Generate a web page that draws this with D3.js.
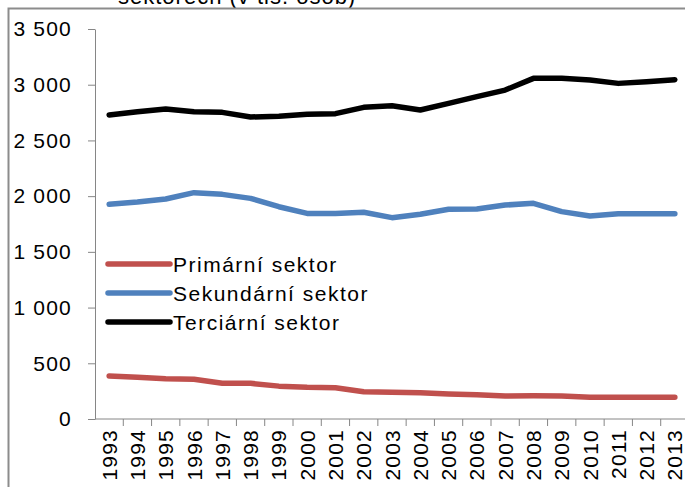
<!DOCTYPE html>
<html>
<head>
<meta charset="utf-8">
<script src="https://cdn.jsdelivr.net/npm/d3@7"></script>
<style>
  body { margin: 0; background: #fff; }
  svg { display: block; font-family: "Liberation Sans", Arial, sans-serif; }
  .axis path, .axis line { stroke: #868686; }
  .axis text { fill: #000; font-size: 21px; letter-spacing: 1.2px; }
</style>
</head>
<body>
<div id="chart"></div>
<script>
'use strict';

var years = ['1993','1994','1995','1996','1997','1998','1999','2000','2001','2002','2003',
             '2004','2005','2006','2007','2008','2009','2010','2011','2012','2013'];
var primarni = [386, 375, 362, 356, 320, 320, 295, 285, 281, 245, 240,
                235, 224, 218, 206, 208, 207, 195, 195, 195, 195];
var sekundarni = [1927, 1947, 1974, 2031, 2016, 1980, 1905, 1845, 1845, 1855, 1807,
                  1837, 1882, 1885, 1920, 1936, 1861, 1822, 1843, 1843, 1843];
var terciarni = [2728, 2757, 2782, 2757, 2752, 2710, 2718, 2734, 2740, 2797, 2812,
                 2773, 2833, 2893, 2952, 3057, 3057, 3042, 3012, 3027, 3045];
var seriesNames = ['Primární sektor', 'Sekundární sektor', 'Terciární sektor'];
var seriesColors = ['#C0504D', '#4F81BD', '#000000'];
var yTicks = [0, 500, 1000, 1500, 2000, 2500, 3000, 3500];

function lineChart() {
  var scope = {};
  var exports = {};

  scope.appendSvg = function(div) {
    return d3.select(div).append('svg')
      .attr('width', 685)
      .attr('height', 487);
  };

  scope.appendFrame = function(svg) {
    // title is mostly cut off above the picture, only its lower edge shows
    svg.append('text')
      .attr('x', 118)
      .attr('y', 3.5)
      .style('font-size', '22px')
      .style('letter-spacing', '1px')
      .text('sektorech (v tis. osob)');

    svg.append('rect')
      .attr('x', 8.5)
      .attr('y', 8.5)
      .attr('width', 700)
      .attr('height', 500)
      .attr('fill', 'none')
      .attr('stroke', '#8c8c8c')
      .attr('stroke-width', 2);
  };

  scope.createAxes = function(svg) {
    var locale = d3.formatLocale({ decimal: ',', thousands: '\u00a0', grouping: [3], currency: ['', ''] });

    scope.xScale = d3.scaleBand().domain(years).range([95, 689]).padding(0);
    scope.yScale = d3.scaleLinear().domain([0, 3500]).range([419, 29]);

    var yAxis = d3.axisLeft(scope.yScale)
      .tickValues(yTicks)
      .tickSize(7)
      .tickSizeOuter(0)
      .tickPadding(16)
      .tickFormat(locale.format(',d'));

    svg.append('g')
      .attr('class', 'axis yAxis')
      .attr('transform', 'translate(95,0)')
      .call(yAxis);

    var xAxisGroup = svg.append('g')
      .attr('class', 'axis xAxis')
      .attr('transform', 'translate(0,419)');

    xAxisGroup.append('line')
      .attr('x1', 95).attr('x2', 689)
      .attr('y1', 0).attr('y2', 0);

    // ticks sit between categories, like the original
    xAxisGroup.selectAll('.bound')
      .data(years)
      .enter()
      .append('line')
      .attr('class', 'bound')
      .attr('x1', function(d) { return scope.xScale(d) + scope.xScale.bandwidth(); })
      .attr('x2', function(d) { return scope.xScale(d) + scope.xScale.bandwidth(); })
      .attr('y1', 0).attr('y2', 7);

    xAxisGroup.selectAll('.label')
      .data(years)
      .enter()
      .append('text')
      .attr('class', 'label')
      .attr('text-anchor', 'end')
      .attr('dy', '0.36em')
      .attr('transform', function(d) {
        return 'translate(' + (scope.xScale(d) + scope.xScale.bandwidth() / 2) + ',10) rotate(-90)';
      })
      .text(function(d) { return d; });
  };

  scope.appendLines = function(svg) {
    var line = d3.line()
      .x(function(d, i) { return scope.xScale(years[i]) + scope.xScale.bandwidth() / 2; })
      .y(function(d) { return scope.yScale(d); });

    svg.selectAll('.series')
      .data([primarni, sekundarni, terciarni])
      .enter()
      .append('path')
      .attr('class', 'series')
      .attr('fill', 'none')
      .attr('stroke', function(d, i) { return seriesColors[i]; })
      .attr('stroke-width', 5.5)
      .attr('stroke-linejoin', 'round')
      .attr('stroke-linecap', 'round')
      .attr('d', line);
  };

  scope.appendLegend = function(svg) {
    var legend = svg.selectAll('.legend')
      .data(seriesNames)
      .enter()
      .append('g')
      .attr('class', 'legend')
      .attr('transform', function(d, i) {
        return 'translate(108,' + (264 + i * 29) + ')';
      });

    legend.append('line')
      .attr('x1', 0).attr('x2', 62)
      .attr('y1', 0).attr('y2', 0)
      .attr('stroke', function(d, i) { return seriesColors[i]; })
      .attr('stroke-width', 5.5)
      .attr('stroke-linecap', 'round');

    legend.append('text')
      .attr('x', 65)
      .attr('y', 0)
      .attr('dy', '0.36em')
      .style('font-size', '21px')
      .style('letter-spacing', '1.5px')
      .text(function(d) { return d; });
  };

  exports.run = function(div) {
    var svg = scope.appendSvg(div);
    scope.appendFrame(svg);
    scope.createAxes(svg);
    scope.appendLines(svg);
    scope.appendLegend(svg);
    return svg;
  };

  return exports;
}

lineChart().run('#chart');
</script>
</body>
</html>
